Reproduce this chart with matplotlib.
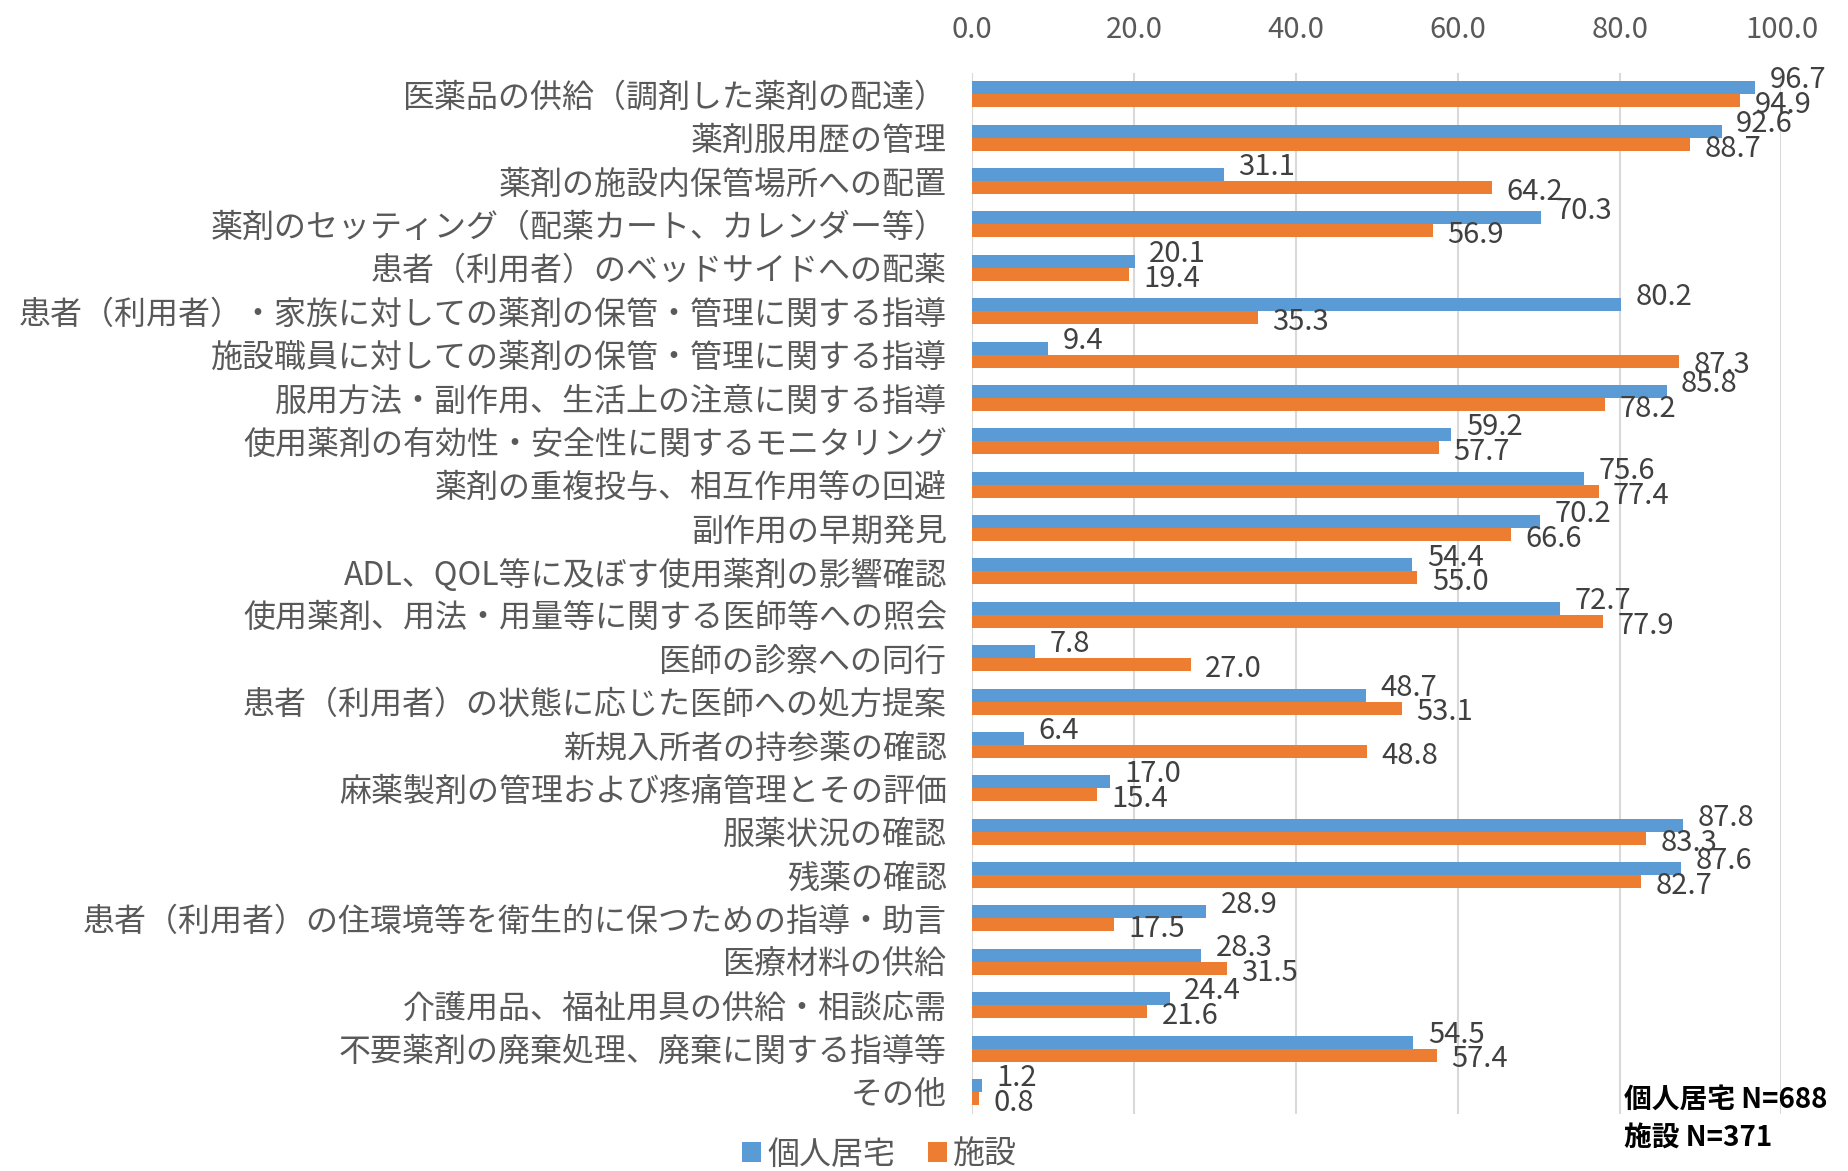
import numpy as np
import matplotlib.pyplot as plt

plt.rcParams['font.family'] = ['Noto Sans CJK JP', 'DejaVu Sans']

# 項目と割合（%）
categories = [
    '医薬品の供給（調剤した薬剤の配達）',
    '薬剤服用歴の管理',
    '薬剤の施設内保管場所への配置',
    '薬剤のセッティング（配薬カート、カレンダー等）',
    '患者（利用者）のベッドサイドへの配薬',
    '患者（利用者）・家族に対しての薬剤の保管・管理に関する指導',
    '施設職員に対しての薬剤の保管・管理に関する指導',
    '服用方法・副作用、生活上の注意に関する指導',
    '使用薬剤の有効性・安全性に関するモニタリング',
    '薬剤の重複投与、相互作用等の回避',
    '副作用の早期発見',
    'ADL、QOL等に及ぼす使用薬剤の影響確認',
    '使用薬剤、用法・用量等に関する医師等への照会',
    '医師の診察への同行',
    '患者（利用者）の状態に応じた医師への処方提案',
    '新規入所者の持参薬の確認',
    '麻薬製剤の管理および疼痛管理とその評価',
    '服薬状況の確認',
    '残薬の確認',
    '患者（利用者）の住環境等を衛生的に保つための指導・助言',
    '医療材料の供給',
    '介護用品、福祉用具の供給・相談応需',
    '不要薬剤の廃棄処理、廃棄に関する指導等',
    'その他',
]
kojin = [96.7, 92.6, 31.1, 70.3, 20.1, 80.2, 9.4, 85.8, 59.2, 75.6, 70.2, 54.4,
         72.7, 7.8, 48.7, 6.4, 17.0, 87.8, 87.6, 28.9, 28.3, 24.4, 54.5, 1.2]
shisetsu = [94.9, 88.7, 64.2, 56.9, 19.4, 35.3, 87.3, 78.2, 57.7, 77.4, 66.6, 55.0,
            77.9, 27.0, 53.1, 48.8, 15.4, 83.3, 82.7, 17.5, 31.5, 21.6, 57.4, 0.8]
xticks = [0, 20, 40, 60, 80, 100]

c_blue = '#5B9BD5'
c_orange = '#ED7D31'
c_text = '#595959'

fig = plt.figure(figsize=(18.48, 11.71), dpi=100)
ax = fig.add_axes([0.526, 0.049, 0.438, 0.889])

y = np.arange(len(categories))
h = 0.3
ax.barh(y - h / 2, kojin, height=h, color=c_blue, label='個人居宅', zorder=3)
ax.barh(y + h / 2, shisetsu, height=h, color=c_orange, label='施設', zorder=3)

# データラベル（青は少し上、橙は少し下）
for yi, v in zip(y, kojin):
    ax.text(v + 1.8, yi - h / 2 - 0.17, f'{v:.1f}', va='center', ha='left',
            fontsize=21, color='#404040', zorder=4)
for yi, v in zip(y, shisetsu):
    ax.text(v + 1.8, yi + h / 2 + 0.1, f'{v:.1f}', va='center', ha='left',
            fontsize=21, color='#404040', zorder=4)

ax.set_xlim(0, 100)
ax.set_ylim(len(categories) - 0.5, -0.5)
ax.set_xticks(xticks)
ax.set_xticklabels([f'{t:.1f}' for t in xticks])
ax.xaxis.tick_top()
ax.tick_params(axis='x', length=0, pad=20, labelsize=21, labelcolor=c_text)
ax.set_yticks(y)
ax.set_yticklabels(categories)
ax.tick_params(axis='y', length=0, pad=18, labelsize=23, labelcolor=c_text)
ax.grid(axis='x', color='#D9D9D9', linewidth=1.5, zorder=0)
for s in ax.spines.values():
    s.set_visible(False)

fig.legend(loc='center', bbox_to_anchor=(0.476, 0.014), ncol=2,
           frameon=False, fontsize=23, handlelength=0.6, handleheight=0.6,
           handletextpad=0.2, columnspacing=1.0, labelcolor=c_text)

fig.text(0.879, 0.045, '個人居宅 N=688\n施設 N=371', fontsize=20, color='black',
         fontweight='bold', ha='left', va='center', linespacing=1.45)

plt.savefig('out.png')
